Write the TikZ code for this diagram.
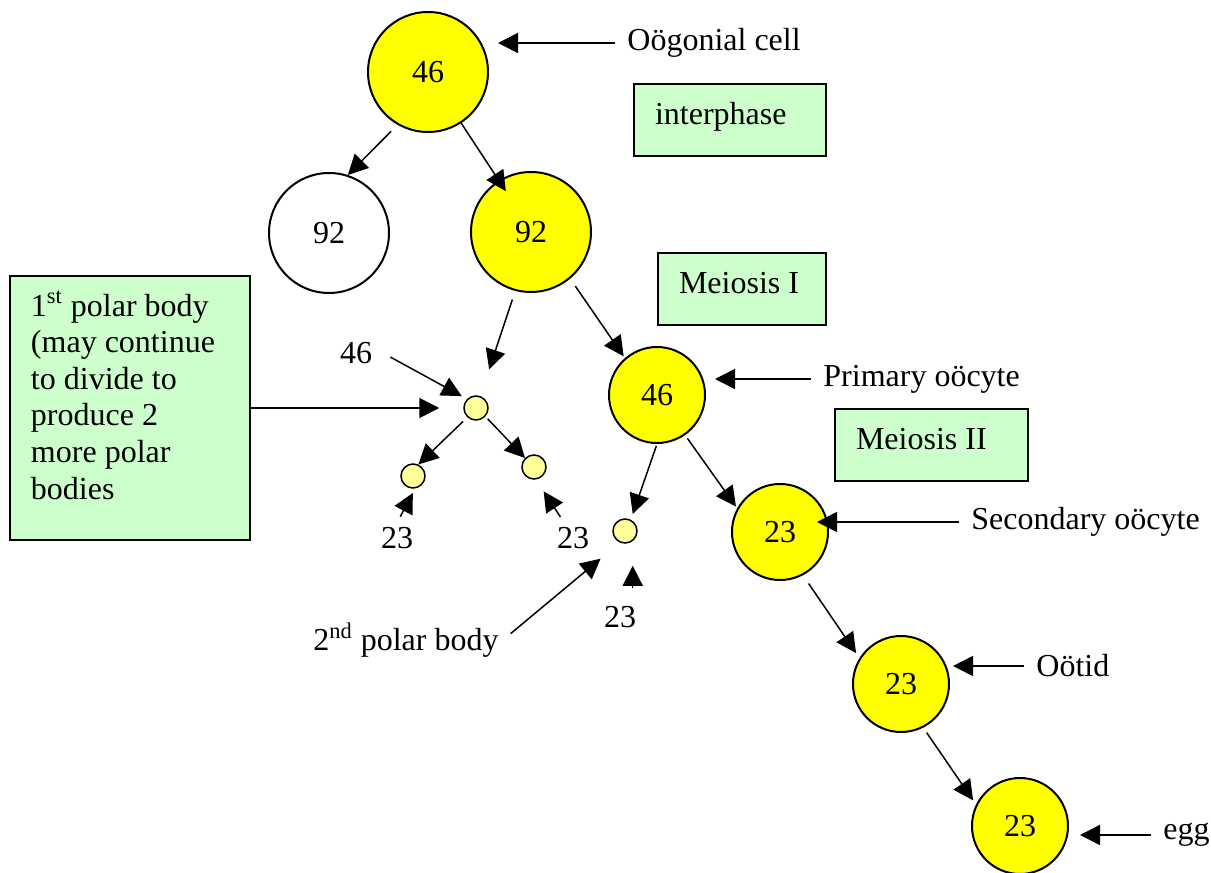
\documentclass[tikz,border=0pt]{standalone}
\usepackage{fontspec}
\setmainfont{Liberation Serif}
\usetikzlibrary{arrows.meta}
\definecolor{cellyellow}{RGB}{255,255,0}
\definecolor{polaryellow}{RGB}{255,255,153}
\definecolor{phasegreen}{RGB}{204,255,204}

\begin{document}
\begin{tikzpicture}[x=0.5pt, y=-0.5pt, font=\fontsize{16}{18.3}\selectfont,
    bigcell/.style={draw, circle, line width=1pt, fill=cellyellow, minimum size=60pt, inner sep=0pt},
    cell/.style={draw, circle, line width=1pt, fill=cellyellow, minimum size=48pt, inner sep=0pt},
    polar/.style={draw, circle, line width=0.75pt, fill=polaryellow, minimum size=12pt, inner sep=0pt},
    phase/.style={draw, line width=1pt, fill=phasegreen, anchor=north west, align=flush left,
        inner xsep=10.5pt, inner ysep=2pt, text height=18pt, text depth=14pt},
    tag/.style={anchor=west, inner xsep=6pt, inner ysep=2pt},
    num/.style={inner sep=2pt},
    arr/.style={-{Triangle[length=10pt,width=10pt]}, line width=0.75pt}]
\useasboundingbox (0,0) rectangle (1211,873);

% Oogonial cell and interphase
\node[bigcell] (c46a) at (428,72) {46};
\node[bigcell, fill=white] (c92w) at (329,233) {92};
\node[bigcell] (c92y) at (531,232) {92};

% Meiosis I
\node[cell] (c46b) at (657,395) {46};
\node[polar] (pb46) at (476,408) {};
\node[polar] (pbL) at (413,476) {};
\node[polar] (pbR) at (534,467) {};

% Meiosis II
\node[cell] (c23a) at (780,532) {23};
\node[polar] (pb2) at (625,531) {};
\node[cell] (c23b) at (901,684) {23};
\node[cell] (c23c) at (1020,826) {23};

% Phase boxes
\node[phase, text width=75pt] (interph) at (633,83) {interphase};
\node[phase, text width=63pt] (meio1) at (657,252) {Meiosis I};
\node[phase, text width=75.5pt] (meio2) at (834,408) {Meiosis II};
\node[phase, text width=99pt, text depth=110pt] (polar1) at (9,275)
    {1\textsuperscript{st} polar body\\(may continue\\to divide to\\produce 2\\more polar\\bodies};

% Labels
\node[tag] (oog) at (615,43) {Oögonial cell};
\node[tag] (prim) at (811,379) {Primary oöcyte};
\node[tag] (sec) at (959,522) {Secondary oöcyte};
\node[tag] (ootid) at (1024,666) {Oötid};
\node[tag] (egg) at (1151,835) {egg};
\node[num] (lab46) at (356,353) {46};
\node[num] (lab23a) at (397,538) {23};
\node[num] (lab23b) at (573,538) {23};
\node[num] (lab23c) at (620,617) {23};
\node[num, anchor=east] (pb2lab) at (503,640) {2\textsuperscript{nd} polar body};

% Divisions
\draw[arr, shorten <=4.5pt] (c46a.240) -- (c92w.72);
\draw[arr, shorten >=-6.5pt] (c46a.303) -- (c92y.122);
\draw[arr, shorten <=4.5pt, shorten >=14pt] (c92y.255) -- (pb46.70);
\draw[arr, shorten <=4.5pt, shorten >=1pt] (c92y.310) -- (c46b.131);
\draw[arr, shorten <=3pt] (pb46.227) -- (pbL.65);
\draw[arr, shorten <=1.5pt] (pb46.318) -- (pbR.135);
\draw[arr, shorten <=1pt, shorten >=3pt] (c46b.270) -- (pb2.63);
\draw[arr, shorten <=2pt, shorten >=1pt] (c46b.305) -- (c23a.151);
\draw[arr, shorten <=5pt, shorten >=3pt] (c23a.298) -- (c23b.148);
\draw[arr, shorten <=3pt, shorten >=2.5pt] (c23b.297) -- (c23c.154);

% Pointers from the labels
\draw[arr, shorten >=4.5pt] (oog.west) -- (oog.west -| c46a.east);
\draw[arr, shorten >=4.5pt] (prim.west) -- (prim.west -| c46b.east);
\draw[arr, shorten >=-6pt] (sec.west) -- (sec.west -| c23a.east);
\draw[arr, shorten >=1.5pt] (ootid.west) -- (ootid.west -| c23b.east);
\draw[arr, shorten >=5.5pt] (egg.west) -- (egg.west -| c23c.east);
\draw[arr, shorten >=12pt] (polar1.east) -- (polar1.east -| pb46.west);
\draw[arr, shorten <=8pt, shorten >=3pt] (lab46.10) -- (pb46.135);
\draw[arr, shorten <=3.5pt, shorten >=2.5pt] (lab23a.north) -- (pbL.280);
\draw[arr, shorten <=3.5pt, shorten >=7pt] (lab23b.120) -- (pbR.279);
\draw[arr, shorten <=7pt, shorten >=11pt] (lab23c.50) -- (lab23c.50 |- pb2.south);
\draw[arr, shorten <=5pt, shorten >=12.5pt] (pb2lab.east) -- (pb2.246);

\end{tikzpicture}
\end{document}
